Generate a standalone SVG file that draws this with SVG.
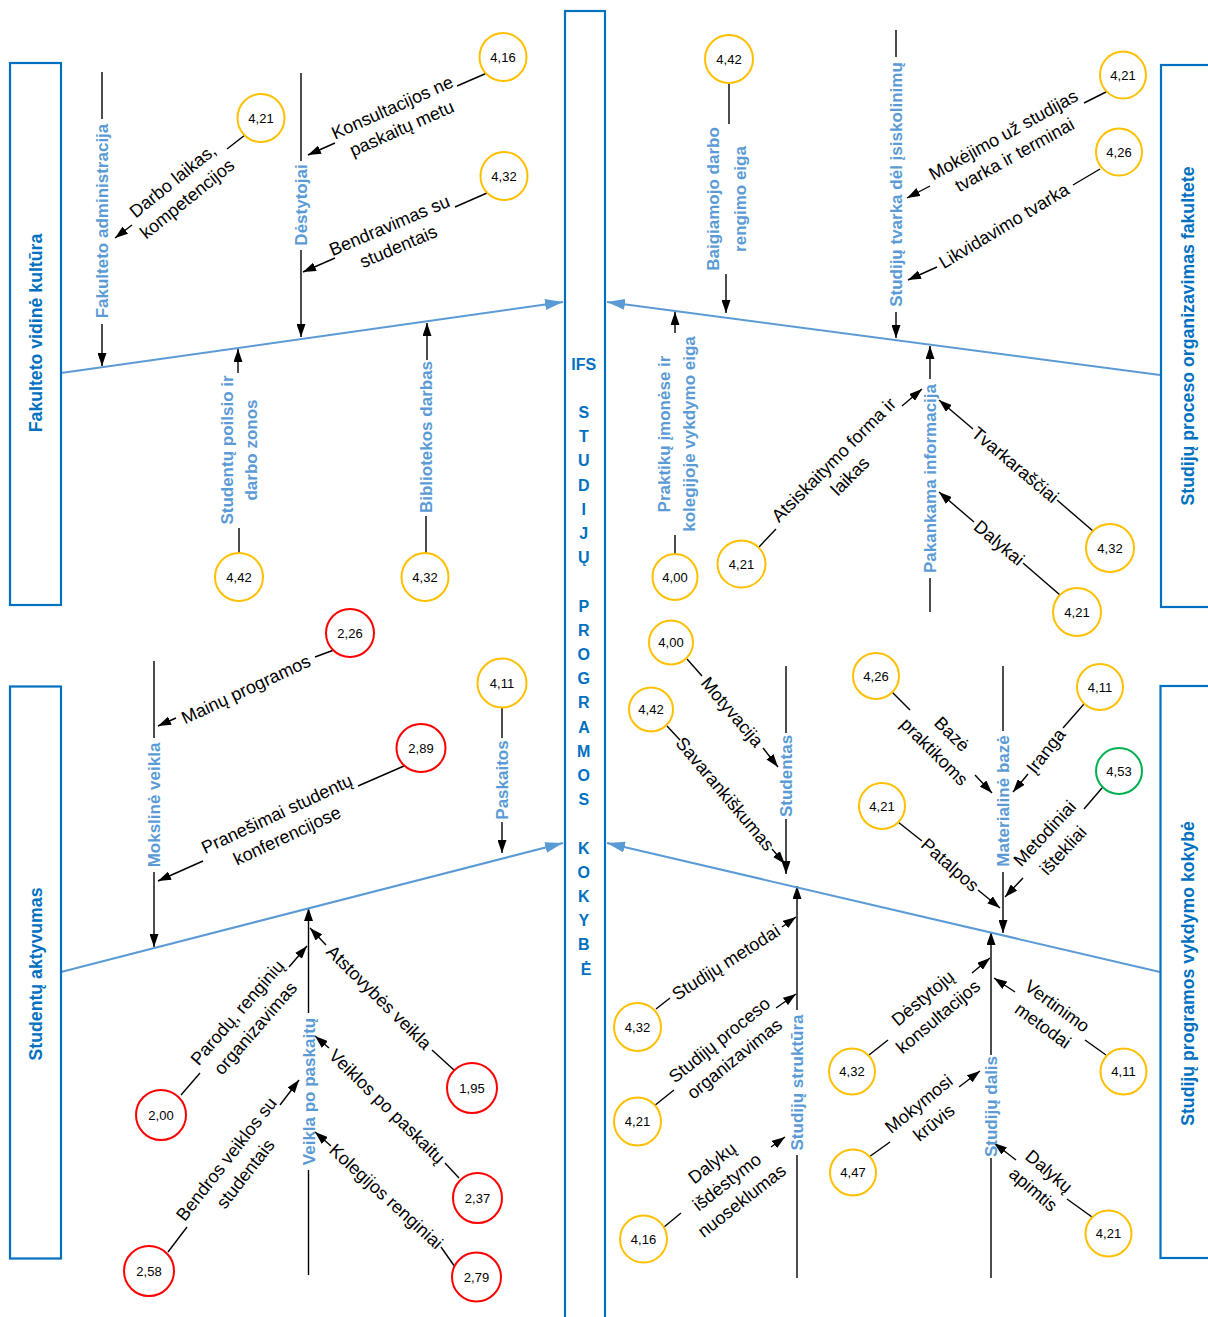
<svg xmlns="http://www.w3.org/2000/svg" width="1208" height="1317" viewBox="0 0 1208 1317">
<defs>
<style>
.bx{fill:none;stroke:#0070C0;stroke-width:2.2}
.sp{fill:none;stroke:#5B9BD5;stroke-width:2;marker-end:url(#bA)}
.ln{fill:none;stroke:#000;stroke-width:1.4}
.ar{fill:none;stroke:#000;stroke-width:1.4;marker-end:url(#ah)}
.cy{fill:#fff;stroke:#FFC000;stroke-width:2}
.cr{fill:#fff;stroke:#FF0000;stroke-width:2}
.cg{fill:#fff;stroke:#00B050;stroke-width:2}
text{font-family:"Liberation Sans",Arial,sans-serif}
.n{font-size:13px;fill:#000;text-anchor:middle}
.l{font-size:18px;fill:#000;text-anchor:middle}
.b{font-size:17px;font-weight:bold;fill:#5B9BD5;text-anchor:middle}
.t{font-size:17.7px;font-weight:bold;fill:#0070C0;text-anchor:middle}
.c{font-size:16px;font-weight:bold;fill:#0070C0;text-anchor:middle}
</style>
<marker id="ah" viewBox="0 0 13 9" refX="13" refY="4.5" markerWidth="13" markerHeight="9" markerUnits="userSpaceOnUse" orient="auto"><path d="M0,0L13,4.5L0,9z" fill="#000"/></marker>
<marker id="bA" viewBox="0 0 18 11" refX="18" refY="5.5" markerWidth="18" markerHeight="11" markerUnits="userSpaceOnUse" orient="auto"><path d="M0,0L18,5.5L0,11z" fill="#5B9BD5"/></marker>
</defs>
<rect width="1208" height="1317" fill="#fff"/>

<g id="connectors">
<line class="ln" x1="102" y1="72" x2="102" y2="119"/>
<line class="ar" x1="102" y1="324" x2="102" y2="366"/>
<line class="ln" x1="245" y1="135" x2="227" y2="149"/>
<line class="ar" x1="132" y1="225" x2="115" y2="238"/>
<line class="ln" x1="301" y1="73" x2="301" y2="161"/>
<line class="ar" x1="301" y1="250" x2="301" y2="337"/>
<line class="ln" x1="487" y1="73" x2="457" y2="86"/>
<line class="ar" x1="335" y1="143" x2="308" y2="155"/>
<line class="ln" x1="487" y1="193" x2="455" y2="207"/>
<line class="ar" x1="335" y1="258" x2="303" y2="272"/>
<line class="ln" x1="239" y1="553" x2="239" y2="528"/>
<line class="ar" x1="238" y1="373" x2="238" y2="349"/>
<line class="ln" x1="426" y1="553" x2="426" y2="516"/>
<line class="ar" x1="427" y1="360" x2="427" y2="323"/>
<line class="sp" x1="61" y1="373" x2="563" y2="302"/>

<line class="ln" x1="729" y1="83" x2="729" y2="124"/>
<line class="ar" x1="726" y1="274" x2="726" y2="313"/>
<line class="ln" x1="896" y1="30" x2="896" y2="57"/>
<line class="ar" x1="896" y1="312" x2="896" y2="338"/>
<line class="ln" x1="1108" y1="91" x2="1084" y2="103"/>
<line class="ar" x1="930" y1="186" x2="907" y2="198"/>
<line class="ln" x1="1100" y1="169" x2="1073" y2="185"/>
<line class="ar" x1="937" y1="267" x2="908" y2="280"/>
<line class="ln" x1="930" y1="612" x2="930" y2="578"/>
<line class="ar" x1="930" y1="379" x2="930" y2="346"/>
<line class="ln" x1="759" y1="547" x2="776" y2="529"/>
<line class="ar" x1="902" y1="406" x2="922" y2="389"/>
<line class="ln" x1="1093" y1="531" x2="1057" y2="500"/>
<line class="ar" x1="973" y1="429" x2="939" y2="400"/>
<line class="ln" x1="1060" y1="595" x2="1023" y2="563"/>
<line class="ar" x1="974" y1="522" x2="939" y2="492"/>
<line class="ln" x1="675" y1="555" x2="675" y2="535"/>
<line class="ar" x1="675" y1="333" x2="675" y2="312"/>
<line class="sp" x1="1160" y1="375" x2="607" y2="302"/>

<line class="ln" x1="154" y1="661" x2="154" y2="738"/>
<line class="ar" x1="154" y1="872" x2="154" y2="947"/>
<line class="ln" x1="334" y1="650" x2="315" y2="657"/>
<line class="ar" x1="176" y1="718" x2="158" y2="726"/>
<line class="ln" x1="404" y1="766" x2="358" y2="786"/>
<line class="ar" x1="203" y1="861" x2="158" y2="881"/>
<line class="ln" x1="502" y1="707" x2="502" y2="738"/>
<line class="ar" x1="502" y1="822" x2="502" y2="853"/>
<line class="ln" x1="308.5" y1="1275" x2="308.5" y2="1170"/>
<line class="ar" x1="308.5" y1="1013" x2="308.5" y2="908"/>
<line class="ln" x1="181" y1="1095" x2="200" y2="1073"/>
<line class="ar" x1="289" y1="967" x2="307" y2="946"/>
<line class="ln" x1="454" y1="1070" x2="432" y2="1050"/>
<line class="ar" x1="326" y1="945" x2="310" y2="928"/>
<line class="ln" x1="459" y1="1178" x2="445" y2="1163"/>
<line class="ar" x1="329" y1="1048" x2="315" y2="1036"/>
<line class="ln" x1="168" y1="1252" x2="187" y2="1227"/>
<line class="ar" x1="280" y1="1105" x2="299" y2="1080"/>
<line class="ln" x1="455" y1="1267" x2="441" y2="1247"/>
<line class="ar" x1="331" y1="1146" x2="315" y2="1132"/>
<line class="sp" x1="61" y1="972" x2="563" y2="843"/>

<line class="ln" x1="786" y1="666" x2="786" y2="733"/>
<line class="ar" x1="786" y1="819" x2="786" y2="874"/>
<line class="ln" x1="687" y1="659" x2="702" y2="676"/>
<line class="ar" x1="763" y1="748" x2="778" y2="767"/>
<line class="ln" x1="667" y1="726" x2="680" y2="740"/>
<line class="ar" x1="772" y1="849" x2="785" y2="864"/>
<line class="ln" x1="797" y1="1278" x2="797" y2="1155"/>
<line class="ar" x1="797" y1="1010" x2="797" y2="886"/>
<line class="ln" x1="656" y1="1009" x2="670" y2="998"/>
<line class="ar" x1="782" y1="927" x2="796" y2="917"/>
<line class="ln" x1="654" y1="1106" x2="674" y2="1090"/>
<line class="ar" x1="776" y1="1008" x2="796" y2="994"/>
<line class="ln" x1="664" y1="1227" x2="681" y2="1213"/>
<line class="ar" x1="771" y1="1147" x2="785" y2="1137"/>
<line class="ln" x1="1003" y1="666" x2="1003" y2="731"/>
<line class="ar" x1="1003" y1="872" x2="1003" y2="933"/>
<line class="ln" x1="892" y1="692" x2="910" y2="710"/>
<line class="ar" x1="975" y1="775" x2="992" y2="793"/>
<line class="ln" x1="1084" y1="704" x2="1063" y2="728"/>
<line class="ar" x1="1028" y1="774" x2="1013" y2="792"/>
<line class="ln" x1="898" y1="822" x2="922" y2="841"/>
<line class="ar" x1="978" y1="890" x2="1000" y2="908"/>
<line class="ln" x1="1102" y1="788" x2="1084" y2="809"/>
<line class="ar" x1="1023" y1="878" x2="1005" y2="897"/>
<line class="ln" x1="991" y1="1278" x2="991" y2="1158"/>
<line class="ar" x1="991" y1="1055" x2="991" y2="932"/>
<line class="ln" x1="869" y1="1055" x2="888" y2="1040"/>
<line class="ar" x1="972" y1="973" x2="990" y2="958"/>
<line class="ln" x1="1106" y1="1055" x2="1085" y2="1040"/>
<line class="ar" x1="1015" y1="992" x2="994" y2="978"/>
<line class="ln" x1="869" y1="1157" x2="890" y2="1142"/>
<line class="ar" x1="959" y1="1087" x2="980" y2="1071"/>
<line class="ln" x1="1092" y1="1217" x2="1067" y2="1199"/>
<line class="ar" x1="1016" y1="1160" x2="994" y2="1143"/>
<line class="sp" x1="1160" y1="972" x2="607" y2="843"/>
</g>

<g id="center">
<rect class="bx" x="565" y="11" width="40" height="1320"/>
<text class="c">
<tspan x="586" y="369.6">IFS</tspan>
<tspan x="586" y="418">S</tspan>
<tspan x="586" y="442.2">T</tspan>
<tspan x="586" y="466.4">U</tspan>
<tspan x="586" y="490.6">D</tspan>
<tspan x="586" y="514.8">I</tspan>
<tspan x="586" y="539">J</tspan>
<tspan x="586" y="563.2">Ų</tspan>
<tspan x="586" y="611.6">P</tspan>
<tspan x="586" y="635.8">R</tspan>
<tspan x="586" y="660">O</tspan>
<tspan x="586" y="684.2">G</tspan>
<tspan x="586" y="708.4">R</tspan>
<tspan x="586" y="732.6">A</tspan>
<tspan x="586" y="756.8">M</tspan>
<tspan x="586" y="781">O</tspan>
<tspan x="586" y="805.2">S</tspan>
<tspan x="586" y="853.6">K</tspan>
<tspan x="586" y="877.8">O</tspan>
<tspan x="586" y="902">K</tspan>
<tspan x="586" y="926.2">Y</tspan>
<tspan x="586" y="950.4">B</tspan>
<tspan x="586" y="974.6">Ė</tspan>
</text>
</g>

<g id="box-kultura"><rect class="bx" x="10" y="63" width="51" height="542"/><text class="t" transform="translate(36,333) rotate(-90)" y="6">Fakulteto vidinė kultūra</text></g>
<g id="box-organizavimas"><rect class="bx" x="1161" y="65" width="60" height="542"/><text class="t" transform="translate(1188,336) rotate(-90)" y="6">Studijų proceso organizavimas fakultete</text></g>
<g id="box-aktyvumas"><rect class="bx" x="10" y="686.5" width="51" height="572"/><text class="t" transform="translate(36,974) rotate(-90)" y="6">Studentų aktyvumas</text></g>
<g id="box-kokybe"><rect class="bx" x="1160.5" y="686" width="60" height="572"/><text class="t" transform="translate(1188,973.5) rotate(-90)" y="6">Studijų programos vykdymo kokybė</text></g>

<g id="bone-administracija"><text class="b" transform="translate(102,221) rotate(-90)" y="6">Fakulteto administracija</text></g>
<g id="f-darbo-laikas"><ellipse class="cy" cx="261" cy="118" rx="23.5" ry="24"/><text class="n" x="261" y="122.5">4,21</text><text class="l" transform="translate(180,190) rotate(-39)"><tspan x="0" y="-5.5">Darbo laikas,</tspan><tspan x="0" y="17.5">kompetencijos</tspan></text></g>
<g id="bone-destytojai"><text class="b" transform="translate(301,205) rotate(-90)" y="6">Dėstytojai</text></g>
<g id="f-konsultacijos"><ellipse class="cy" cx="503" cy="57" rx="23.5" ry="24"/><text class="n" x="503" y="61.5">4,16</text><text class="l" transform="translate(397,118) rotate(-24)"><tspan x="0" y="-5.5">Konsultacijos ne</tspan><tspan x="0" y="17.5">paskaitų metu</tspan></text></g>
<g id="f-bendravimas"><ellipse class="cy" cx="504" cy="176" rx="23.5" ry="24"/><text class="n" x="504" y="180.5">4,32</text><text class="l" transform="translate(394,236) rotate(-23)"><tspan x="0" y="-5.5">Bendravimas su</tspan><tspan x="0" y="17.5">studentais</tspan></text></g>
<g id="f-poilsio-zonos"><ellipse class="cy" cx="239" cy="577" rx="24" ry="24"/><text class="n" x="239" y="581.5">4,42</text><text class="b" transform="translate(239,450) rotate(-90)"><tspan x="0" y="-5.8">Studentų poilsio ir</tspan><tspan x="0" y="17.9">darbo zonos</tspan></text></g>
<g id="f-biblioteka"><ellipse class="cy" cx="425" cy="577" rx="23.5" ry="24"/><text class="n" x="425" y="581.5">4,32</text><text class="b" transform="translate(426,437) rotate(-90)" y="6">Bibliotekos darbas</text></g>

<g id="f-baigiamasis"><ellipse class="cy" cx="729" cy="59" rx="24" ry="24"/><text class="n" x="729" y="63.5">4,42</text><text class="b" transform="translate(726.5,199) rotate(-90)"><tspan x="0" y="-7.5">Baigiamojo darbo</tspan><tspan x="0" y="19.5">rengimo eiga</tspan></text></g>
<g id="bone-isiskolinimai"><text class="b" transform="translate(896,184.5) rotate(-90)" y="6">Studijų tvarka dėl įsiskolinimų</text></g>
<g id="f-mokejimas"><ellipse class="cy" cx="1123" cy="75" rx="23" ry="23.5"/><text class="n" x="1123" y="79.5">4,21</text><text class="l" transform="translate(1009,145) rotate(-29)"><tspan x="0" y="-5.5">Mokėjimo už studijas</tspan><tspan x="0" y="17.5">tvarka ir terminai</tspan></text></g>
<g id="f-likvidavimas"><ellipse class="cy" cx="1119" cy="152" rx="23" ry="23.5"/><text class="n" x="1119" y="156.5">4,26</text><text class="l" transform="translate(1004,226) rotate(-31)" y="6">Likvidavimo tvarka</text></g>
<g id="bone-informacija"><text class="b" transform="translate(930,478.5) rotate(-90)" y="6">Pakankama informacija</text></g>
<g id="f-atsiskaitymas"><ellipse class="cy" cx="741.5" cy="564" rx="24" ry="23.5"/><text class="n" x="741.5" y="568.5">4,21</text><text class="l" transform="translate(842,468) rotate(-45)"><tspan x="0" y="-5.5">Atsiskaitymo forma ir</tspan><tspan x="0" y="17.5">laikas</tspan></text></g>
<g id="f-tvarkarasciai"><ellipse class="cy" cx="1110" cy="548" rx="24" ry="24"/><text class="n" x="1110" y="552.5">4,32</text><text class="l" transform="translate(1015,465) rotate(40)" y="6">Tvarkaraščiai</text></g>
<g id="f-dalykai"><ellipse class="cy" cx="1077" cy="612" rx="24" ry="24"/><text class="n" x="1077" y="616.5">4,21</text><text class="l" transform="translate(999,543) rotate(40)" y="6">Dalykai</text></g>
<g id="f-praktikos"><ellipse class="cy" cx="675" cy="577" rx="22.5" ry="23"/><text class="n" x="675" y="581.5">4,00</text><text class="b" transform="translate(676.5,434) rotate(-90)"><tspan x="0" y="-6.5">Praktikų įmonėse ir</tspan><tspan x="0" y="18.5">kolegijoje vykdymo eiga</tspan></text></g>

<g id="bone-mokslinė"><text class="b" transform="translate(154,805) rotate(-90)" y="6">Mokslinė veikla</text></g>
<g id="f-mainu"><ellipse class="cr" cx="350" cy="633" rx="24" ry="24"/><text class="n" x="350" y="637.5">2,26</text><text class="l" transform="translate(246,689.5) rotate(-25)" y="6">Mainų programos</text></g>
<g id="f-pranesimai"><ellipse class="cr" cx="421" cy="748" rx="24.5" ry="24"/><text class="n" x="421" y="752.5">2,89</text><text class="l" transform="translate(282,825) rotate(-25)"><tspan x="0" y="-6">Pranešimai studentų</tspan><tspan x="0" y="18">konferencijose</tspan></text></g>
<g id="f-paskaitos"><ellipse class="cy" cx="502" cy="683" rx="24.5" ry="24.5"/><text class="n" x="502" y="687.5">4,11</text><text class="b" transform="translate(502,780) rotate(-90)" y="6">Paskaitos</text></g>
<g id="bone-veikla"><text class="b" transform="translate(308.5,1091.5) rotate(-90)" y="6">Veikla po paskaitų</text></g>
<g id="f-parodos"><ellipse class="cr" cx="161" cy="1115" rx="25" ry="25"/><text class="n" x="161" y="1119.5">2,00</text><text class="l" transform="translate(246.5,1020.5) rotate(-49)"><tspan x="0" y="-6">Parodų, renginių</tspan><tspan x="0" y="18">organizavimas</tspan></text></g>
<g id="f-atstovybe"><ellipse class="cr" cx="472" cy="1088" rx="25" ry="25"/><text class="n" x="472" y="1092.5">1,95</text><text class="l" transform="translate(379,997.5) rotate(44.7)" y="6">Atstovybės veikla</text></g>
<g id="f-veiklos-po"><ellipse class="cr" cx="477.5" cy="1198" rx="24.5" ry="25"/><text class="n" x="477.5" y="1202.5">2,37</text><text class="l" transform="translate(387,1106.5) rotate(44.5)" y="6">Veiklos po paskaitų</text></g>
<g id="f-bendros"><ellipse class="cr" cx="149" cy="1271" rx="25" ry="25"/><text class="n" x="149" y="1275.5">2,58</text><text class="l" transform="translate(236,1166.5) rotate(-52)"><tspan x="0" y="-6">Bendros veiklos su</tspan><tspan x="0" y="18">studentais</tspan></text></g>
<g id="f-kolegijos"><ellipse class="cr" cx="476.5" cy="1277" rx="24.5" ry="24.5"/><text class="n" x="476.5" y="1281.5">2,79</text><text class="l" transform="translate(386,1196.5) rotate(42.3)" y="6">Kolegijos renginiai</text></g>

<g id="bone-studentas"><text class="b" transform="translate(786,776) rotate(-90)" y="6">Studentas</text></g>
<g id="f-motyvacija"><ellipse class="cy" cx="671" cy="642.5" rx="22" ry="22"/><text class="n" x="671" y="647">4,00</text><text class="l" transform="translate(732,712) rotate(49.7)" y="6">Motyvacija</text></g>
<g id="f-savarankiskumas"><ellipse class="cy" cx="651" cy="709.5" rx="22" ry="22"/><text class="n" x="651" y="714">4,42</text><text class="l" transform="translate(725,794) rotate(50)" y="6">Savarankiškumas</text></g>
<g id="bone-struktura"><text class="b" transform="translate(797,1082.5) rotate(-90)" y="6">Studijų struktūra</text></g>
<g id="f-metodai"><ellipse class="cy" cx="637.5" cy="1027" rx="23.5" ry="24"/><text class="n" x="637.5" y="1031.5">4,32</text><text class="l" transform="translate(726,962.5) rotate(-32.5)" y="6">Studijų metodai</text></g>
<g id="f-proceso-org"><ellipse class="cy" cx="637.5" cy="1121.5" rx="23.5" ry="24"/><text class="n" x="637.5" y="1126">4,21</text><text class="l" transform="translate(727,1049.5) rotate(-39)"><tspan x="0" y="-6">Studijų proceso</tspan><tspan x="0" y="18">organizavimas</tspan></text></g>
<g id="f-nuoseklumas"><ellipse class="cy" cx="643.5" cy="1239" rx="23.5" ry="23.5"/><text class="n" x="643.5" y="1243.5">4,16</text><text class="l" transform="translate(727,1182) rotate(-38)"><tspan x="0" y="-18">Dalykų</tspan><tspan x="0" y="6">išdėstymo</tspan><tspan x="0" y="30">nuoseklumas</tspan></text></g>
<g id="bone-materiline"><text class="b" transform="translate(1003,801) rotate(-90)" y="6">Materialinė bazė</text></g>
<g id="f-baze-praktikoms"><ellipse class="cy" cx="876" cy="676" rx="23" ry="23"/><text class="n" x="876" y="680.5">4,26</text><text class="l" transform="translate(943,743) rotate(45)"><tspan x="0" y="-6.5">Bazė</tspan><tspan x="0" y="18.5">praktikoms</tspan></text></g>
<g id="f-iranga"><ellipse class="cy" cx="1100" cy="687" rx="23" ry="23"/><text class="n" x="1100" y="691.5">4,11</text><text class="l" transform="translate(1046,751) rotate(-52)" y="6">Įranga</text></g>
<g id="f-patalpos"><ellipse class="cy" cx="882" cy="806" rx="23" ry="23"/><text class="n" x="882" y="810.5">4,21</text><text class="l" transform="translate(950,865) rotate(41.4)" y="6">Patalpos</text></g>
<g id="f-metodiniai"><ellipse class="cg" cx="1119" cy="771" rx="23" ry="23"/><text class="n" x="1119" y="775.5">4,53</text><text class="l" transform="translate(1054,842) rotate(-47)"><tspan x="0" y="-6.5">Metodiniai</tspan><tspan x="0" y="18.5">ištekliai</tspan></text></g>
<g id="bone-dalis"><text class="b" transform="translate(991,1106.5) rotate(-90)" y="6">Studijų dalis</text></g>
<g id="f-destytoju-kons"><ellipse class="cy" cx="852" cy="1071.5" rx="23" ry="23"/><text class="n" x="852" y="1076">4,32</text><text class="l" transform="translate(930.5,1007.5) rotate(-40)"><tspan x="0" y="-6">Dėstytojų</tspan><tspan x="0" y="18">konsultacijos</tspan></text></g>
<g id="f-vertinimas"><ellipse class="cy" cx="1123.5" cy="1071.5" rx="23" ry="23"/><text class="n" x="1123.5" y="1076">4,11</text><text class="l" transform="translate(1050,1016) rotate(36)"><tspan x="0" y="-6">Vertinimo</tspan><tspan x="0" y="18">metodai</tspan></text></g>
<g id="f-kruvis"><ellipse class="cy" cx="853" cy="1172.5" rx="23" ry="23"/><text class="n" x="853" y="1177">4,47</text><text class="l" transform="translate(926.5,1113.5) rotate(-39)"><tspan x="0" y="-6">Mokymosi</tspan><tspan x="0" y="18">krūvis</tspan></text></g>
<g id="f-apimtis"><ellipse class="cy" cx="1108.5" cy="1233.5" rx="23" ry="23"/><text class="n" x="1108.5" y="1238">4,21</text><text class="l" transform="translate(1041,1180.5) rotate(40.6)"><tspan x="0" y="-6">Dalykų</tspan><tspan x="0" y="18">apimtis</tspan></text></g>
</svg>
